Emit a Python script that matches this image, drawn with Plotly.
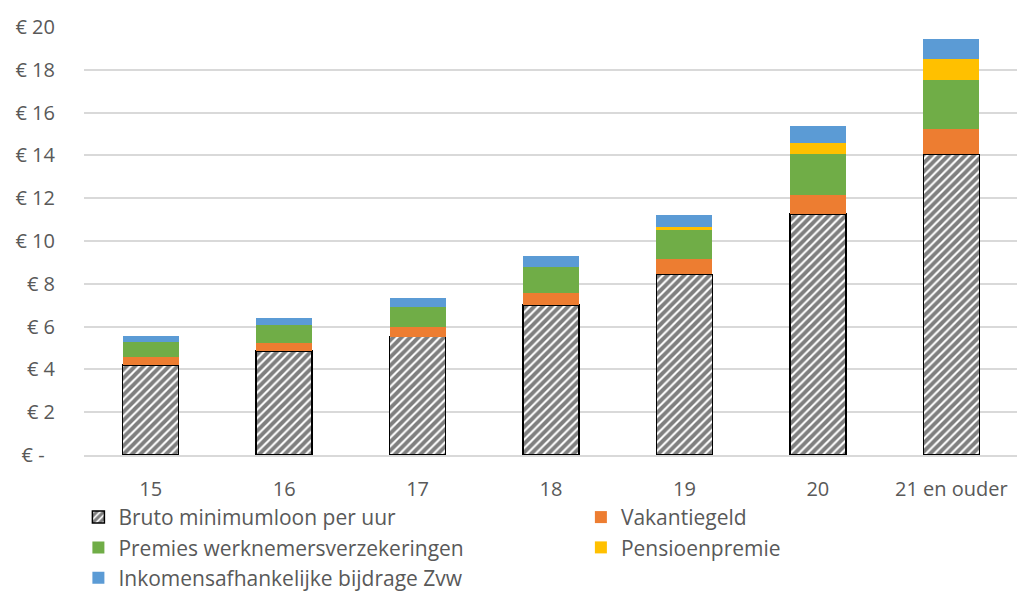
import plotly.graph_objects as go

categories = ["15", "16", "17", "18", "19", "20", "21 en ouder"]
bruto = [4.20, 4.86, 5.53, 7.01, 8.44, 11.26, 14.05]
vakantiegeld = [0.37, 0.37, 0.45, 0.57, 0.70, 0.89, 1.17]
premies = [0.70, 0.83, 0.95, 1.22, 1.42, 1.90, 2.32]
pensioen = [0.00, 0.00, 0.00, 0.00, 0.08, 0.52, 0.96]
zvw = [0.31, 0.34, 0.41, 0.50, 0.59, 0.80, 0.95]

y_ticks = [0, 2, 4, 6, 8, 10, 12, 14, 16, 18, 20]
y_ticktext = ["€ -\u00a0\u00a0", "€ 2", "€ 4", "€ 6", "€ 8", "€ 10", "€ 12", "€ 14", "€ 16", "€ 18", "€ 20"]

FONT = "Open Sans, sans-serif"
TXT = "#595959"
GRID = "#d9d9d9"

fig = go.Figure()
fig.add_trace(go.Bar(
    x=categories, y=bruto, name="Bruto minimumloon per uur", legend="legend",
    marker=dict(color="white",
                pattern=dict(shape="/", fgcolor="black", bgcolor="white", size=6, solidity=0.65),
                line=dict(color="black", width=1.5)),
))
series = [
    ("Vakantiegeld", vakantiegeld, "#ED7D31", "legend2"),
    ("Premies werknemersverzekeringen", premies, "#70AD47", "legend"),
    ("Pensioenpremie", pensioen, "#FFC000", "legend2"),
    ("Inkomensafhankelijke bijdrage Zvw", zvw, "#5B9BD5", "legend"),
]
for name, vals, col, lg in series:
    fig.add_trace(go.Bar(x=categories, y=vals, name=name, legend=lg,
                         marker=dict(color=col, line=dict(width=0))))

legend_common = dict(orientation="v", yanchor="top", xanchor="left",
                     traceorder="normal", itemwidth=30,
                     font=dict(family=FONT, size=21, color=TXT),
                     bgcolor="rgba(0,0,0,0)", borderwidth=0)

# the page body has an 8px default margin, so the figure is offset by 8px
fig.update_layout(
    barmode="stack",
    bargap=0.58,
    width=1017, height=584,
    paper_bgcolor="white", plot_bgcolor="white",
    margin=dict(l=76, r=7, t=19, b=137, autoexpand=False),
    font=dict(family=FONT, size=20, color=TXT),
    showlegend=True,
    legend=dict(x=-0.006, y=-0.098, **legend_common),
    legend2=dict(x=0.532, y=-0.098, **legend_common),
)
fig.update_yaxes(range=[0, 20], tickvals=y_ticks, ticktext=y_ticktext,
                 showgrid=True, gridcolor=GRID, gridwidth=1.5,
                 zeroline=False, showline=False, ticks="",
                 ticklabelstandoff=28, tickfont=dict(size=20, color=TXT))
fig.update_xaxes(showline=True, linecolor=GRID, linewidth=1.5, ticks="",
                 ticklabelstandoff=15, tickfont=dict(size=20, color=TXT))

fig.write_html("out.html")
